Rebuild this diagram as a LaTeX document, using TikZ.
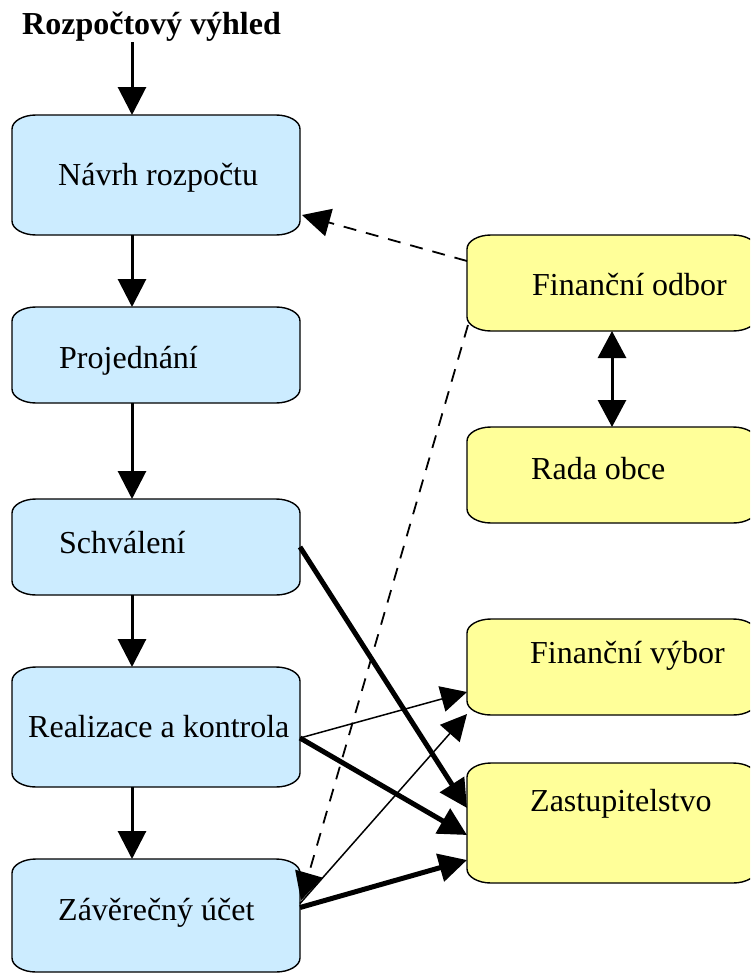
\documentclass[tikz,border=0pt]{standalone}
\usepackage{fontspec}
\setmainfont{Liberation Serif}
\usetikzlibrary{arrows.meta}
\definecolor{boxblue}{HTML}{CCECFF}
\definecolor{boxyellow}{HTML}{FFFF99}
\newcommand\ebox[6]{%
  \draw[#6] ({#2+24},#3) -- ({#4-24},#3) .. controls ({#4-10.8},#3) and (#4,{#3+6.3}) .. (#4,{#3+14})
    -- (#4,{#5-14}) .. controls (#4,{#5-6.3}) and ({#4-10.8},#5) .. ({#4-24},#5)
    -- ({#2+24},#5) .. controls ({#2+10.8},#5) and (#2,{#5-6.3}) .. (#2,{#5-14})
    -- (#2,{#3+14}) .. controls (#2,{#3+6.3}) and ({#2+10.8},#3) .. ({#2+24},#3) -- cycle;
  \node[inner sep=0pt, outer sep=0pt, minimum width={(#4-#2)*1pt}, minimum height={(#5-#3)*1pt}] (#1) at ({(#2+#4)/2},{(#3+#5)/2}) {};
}
\tikzset{
  bluebox/.style={fill=boxblue, draw=black, line width=1.4pt},
  yellowbox/.style={fill=boxyellow, draw=black, line width=1.4pt},
  lbl/.style={anchor=base west, inner sep=0pt},
  arr/.style={line width=3pt, -{Triangle[length=28pt,width=28pt]}},
  dbl/.style={line width=3pt, {Triangle[length=27pt,width=28pt]}-{Triangle[length=27pt,width=28pt]}},
  thickarr/.style={line width=5pt, -{Triangle[length=28pt,width=28pt]}},
  thinarr/.style={line width=1.5pt, -{Triangle[length=26pt,width=26pt]}},
  dasharr/.style={line width=1.8pt, dash pattern=on 13pt off 10pt, -{Triangle[length=28pt,width=28pt]}}
}
\begin{document}
\begin{tikzpicture}[x=1pt, y=-1pt, font=\fontsize{32}{38}\selectfont]
\useasboundingbox (0,0) rectangle (750,974);
\clip (0,0) rectangle (750,974);
% left column
\ebox{navrh}{12}{115}{300}{235}{bluebox}
\ebox{projed}{12}{307}{300}{403}{bluebox}
\ebox{schval}{12}{499}{300}{595}{bluebox}
\ebox{real}{12}{667}{300}{787}{bluebox}
\ebox{zav}{12}{859}{300}{972}{bluebox}
% right column
\ebox{odbor}{467}{235}{757}{331}{yellowbox}
\ebox{rada}{467}{427}{757}{523}{yellowbox}
\ebox{vybor}{467}{619}{757}{715}{yellowbox}
\ebox{zast}{467}{763}{757}{883}{yellowbox}
% texts
\node[lbl, font=\fontsize{32}{38}\selectfont\bfseries] (title) at (22,35) {Rozpočtový výhled};
\node[lbl] (navrhT) at (58,185) {Návrh rozpočtu};
\node[lbl] (projedT) at (59,368) {Projednání};
\node[lbl] (schvalT) at (59,553) {Schválení};
\node[lbl] (realT) at (28,737) {Realizace a kontrola};
\node[lbl] (zavT) at (58,920) {Závěrečný účet};
\node[lbl] (odborT) at (532,295) {Finanční odbor};
\node[lbl] (radaT) at (531,479) {Rada obce};
\node[lbl] (vyborT) at (530,663) {Finanční výbor};
\node[lbl] (zastT) at (530,811) {Zastupitelstvo};
% vertical flow
\coordinate (navrhTop) at ([xshift=-24pt]navrh.north);
\draw[arr] (title.south -| navrhTop) -- (navrhTop);
\draw[arr] ([xshift=-24pt]navrh.south) -- ([xshift=-24pt]projed.north);
\draw[arr] ([xshift=-24pt]projed.south) -- ([xshift=-24pt]schval.north);
\draw[arr] ([xshift=-24pt]schval.south) -- ([xshift=-24pt]real.north);
\draw[arr] ([xshift=-24pt]real.south) -- ([xshift=-24pt]zav.north);
\draw[dbl] (odbor.south) -- (rada.north);
% dashed
\draw[dasharr] ([yshift=22pt]odbor.west) -- ([xshift=2pt,yshift=-40pt]navrh.east);
\draw[dasharr] ([xshift=1pt,yshift=6pt]odbor.south west) -- ([xshift=1pt,yshift=15pt]zav.east);
% thick and thin
\draw[thickarr] (schval.east) -- ([yshift=15pt]zast.west);
\draw[thinarr] ([yshift=-11pt]real.east) -- ([yshift=-25pt]vybor.west);
\draw[thickarr] ([yshift=-11pt]real.east) -- ([yshift=-12pt]zast.west);
\draw[thinarr] ([yshift=12pt]zav.east) -- ([yshift=1pt]vybor.south west);
\draw[thickarr] ([yshift=8pt]zav.east) -- ([yshift=-37pt]zast.west);
\end{tikzpicture}
\end{document}
